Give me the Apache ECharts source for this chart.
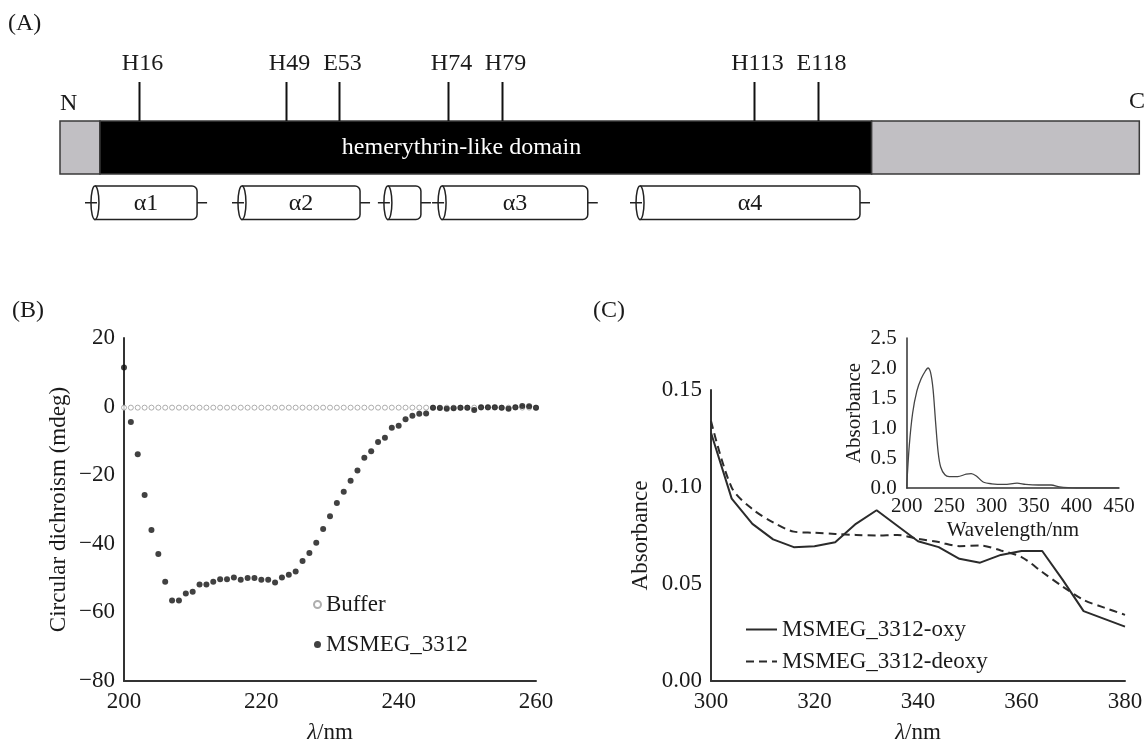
<!DOCTYPE html>
<html>
<head>
<meta charset="utf-8">
<script src="https://cdn.jsdelivr.net/npm/echarts@6/dist/echarts.min.js"></script>
<style>
html, body { margin: 0; background: #fff; }
#chart { width: 1148px; height: 745px; }
</style>
</head>
<body>
<div id="chart"></div>
<script>
// (A) schematic, positions along the bar on a 0-1000 scale
const segStart = [0, 37, 752]
const segEnd = [37, 752, 1000]
const segColor = ['#c1bfc3', '#000000', '#c1bfc3']
const domainLabel = 'hemerythrin-like domain'
const domainLabelPos = 372
const siteNames = ['H16', 'H49', 'E53', 'H74', 'H79', 'H113', 'E118']
const sitePos = [73.2, 209.4, 258.5, 359.5, 409.5, 643, 702.3]
const helixNames = ['α1', 'α2', '', 'α3', 'α4']
const helixStart = [32.4, 168.6, 303.8, 354, 537.4]
const helixEnd = [127, 278, 334.4, 489, 741.2]

// (B) circular dichroism
const cdWavelength = [
  200, 201, 202, 203, 204, 205, 206, 207, 208, 209,
  210, 211, 212, 213, 214, 215, 216, 217, 218, 219,
  220, 221, 222, 223, 224, 225, 226, 227, 228, 229,
  230, 231, 232, 233, 234, 235, 236, 237, 238, 239,
  240, 241, 242, 243, 244, 245, 246, 247, 248, 249,
  250, 251, 252, 253, 254, 255, 256, 257, 258, 259, 260]
const cdBuffer = [
  -0.3, -0.3, -0.3, -0.3, -0.3, -0.3, -0.3, -0.3, -0.3, -0.3,
  -0.3, -0.3, -0.3, -0.3, -0.3, -0.3, -0.3, -0.3, -0.3, -0.3,
  -0.3, -0.3, -0.3, -0.3, -0.3, -0.3, -0.3, -0.3, -0.3, -0.3,
  -0.3, -0.3, -0.3, -0.3, -0.3, -0.3, -0.3, -0.3, -0.3, -0.3,
  -0.3, -0.3, -0.3, -0.3, -0.3, -0.3, -0.3, -0.3, -0.3, -0.3,
  -0.3, -0.3, -0.3, -0.3, -0.3, -0.3, -0.3, -0.3, -0.3, -0.3, -0.3]
const cdProtein = [
  11.4, -4.5, -13.9, -25.8, -36, -43, -51.1, -56.5, -56.5, -54.5,
  -54, -51.9, -51.9, -51.1, -50.3, -50.3, -49.8, -50.5, -50, -50,
  -50.5, -50.5, -51.3, -49.8, -49, -48.1, -45, -42.7, -39.7, -35.7,
  -32, -28.1, -24.8, -21.6, -18.6, -14.9, -13, -10.3, -9.1, -6.2,
  -5.6, -3.7, -2.7, -2.1, -2, -0.3, -0.4, -0.6, -0.5, -0.3,
  -0.3, -1, -0.2, -0.2, -0.2, -0.3, -0.6, -0.2, 0.2, 0.1, -0.3]

// (C) absorbance 300-380 nm
const absWavelength = [300, 304, 308, 312, 316, 320, 324, 328, 332, 336, 340, 344, 348, 352, 356, 360, 364, 368, 372, 376, 380]
const absOxy = [0.128, 0.094, 0.081, 0.073, 0.069, 0.0695, 0.0715, 0.081, 0.088, 0.080, 0.072, 0.069, 0.063, 0.061, 0.065, 0.067, 0.067, 0.052, 0.036, 0.032, 0.028]
const absDeoxy = [0.134, 0.0997, 0.0886, 0.0818, 0.077, 0.0764, 0.0758, 0.0753, 0.075, 0.0753, 0.0733, 0.0716, 0.0695, 0.0699, 0.0673, 0.0639, 0.0562, 0.0486, 0.0418, 0.0378, 0.0341]

// (C) inset, full spectrum
const insetWavelength = [200, 203, 207, 212, 217, 222, 225, 228, 231, 234, 237, 240, 245, 250, 260, 270, 276, 282, 290, 300, 315, 330, 340, 355, 370, 380, 390, 400, 450]
const insetAbs = [0.02, 0.7, 1.25, 1.62, 1.82, 1.95, 2.0, 1.93, 1.65, 1.1, 0.6, 0.35, 0.22, 0.19, 0.19, 0.23, 0.24, 0.2, 0.1, 0.07, 0.06, 0.08, 0.06, 0.05, 0.05, 0.02, 0.005, 0, 0]

const serif = 'Liberation Serif'
const ink = '#1a1a1a'
const minus = (v) => (v < 0 ? '\u2212' + Math.abs(v) : String(v))
const pairs = (xs, ys) => xs.map((x, i) => [x, ys[i]])

function axisStyle(size) {
  return {
    axisLine: { show: true, onZero: false, lineStyle: { color: '#333', width: 2 } },
    axisTick: { show: false },
    splitLine: { show: false },
    axisLabel: { fontFamily: serif, fontSize: size, color: ink, margin: 9 },
    nameTextStyle: { fontFamily: serif, fontSize: size, color: ink },
  }
}

const lambdaName = {
  name: '{i|λ}/nm',
  nameLocation: 'middle',
  nameGap: 40,
}
const lambdaRich = { rich: { i: { fontStyle: 'italic', fontFamily: serif, fontSize: 23, color: ink } } }

const chart = echarts.init(document.getElementById('chart'), null, { renderer: 'canvas' })

chart.setOption({
  animation: false,
  backgroundColor: '#fff',
  textStyle: { fontFamily: serif },
  grid: [
    { left: 60, right: 8.7, top: 82, bottom: 525.7 },
    { left: 124, right: 612, top: 338, bottom: 64 },
    { left: 711, right: 23, top: 390, bottom: 63 },
    { left: 906.7, right: 29, top: 338, bottom: 257 },
  ],
  xAxis: [
    { gridIndex: 0, type: 'value', min: 0, max: 1000, show: false },
    (() => {
      const s = axisStyle(23)
      return { gridIndex: 1, type: 'value', min: 200, max: 260, interval: 20, ...s, ...lambdaName,
        nameTextStyle: { ...s.nameTextStyle, ...lambdaRich } }
    })(),
    (() => {
      const s = axisStyle(23)
      return { gridIndex: 2, type: 'value', min: 300, max: 380, interval: 20, ...s, ...lambdaName,
        nameTextStyle: { ...s.nameTextStyle, ...lambdaRich } }
    })(),
    { gridIndex: 3, type: 'value', min: 200, max: 450, interval: 50, ...axisStyle(21),
      axisLine: { show: true, onZero: false, lineStyle: { color: '#333', width: 1.5 } },
      axisLabel: { fontFamily: serif, fontSize: 21, color: ink, margin: 8 },
      name: 'Wavelength/nm', nameLocation: 'middle', nameGap: 32 },
  ],
  yAxis: [
    { gridIndex: 0, type: 'value', min: 0, max: 1, show: false },
    { gridIndex: 1, type: 'value', min: -80, max: 20, interval: 20, ...axisStyle(23),
      axisLabel: { fontFamily: serif, fontSize: 23, color: ink, margin: 9, formatter: minus },
      name: 'Circular dichroism (mdeg)', nameLocation: 'middle', nameGap: 54 },
    { gridIndex: 2, type: 'value', min: 0, max: 0.15, interval: 0.05, ...axisStyle(23),
      axisLabel: { fontFamily: serif, fontSize: 23, color: ink, margin: 9, formatter: (v) => v.toFixed(2) },
      name: 'Absorbance', nameLocation: 'middle', nameGap: 59 },
    { gridIndex: 3, type: 'value', min: 0, max: 2.5, interval: 0.5, ...axisStyle(21),
      axisLine: { show: true, onZero: false, lineStyle: { color: '#333', width: 1.5 } },
      axisLabel: { fontFamily: serif, fontSize: 21, color: ink, margin: 10, formatter: (v) => v.toFixed(1) },
      name: 'Absorbance', nameLocation: 'middle', nameGap: 42 },
  ],
  legend: [
    {
      data: ['Buffer', 'MSMEG_3312'],
      orient: 'vertical', left: 308, top: 588,
      itemWidth: 7, itemHeight: 7, itemGap: 17,
      textStyle: { fontFamily: serif, fontSize: 23, color: ink },
    },
    {
      data: ['MSMEG_3312-oxy', 'MSMEG_3312-deoxy'],
      orient: 'vertical', left: 740, top: 613,
      itemWidth: 31, itemHeight: 10, itemGap: 9,
      itemStyle: { opacity: 0 },
      textStyle: { fontFamily: serif, fontSize: 23, color: ink },
    },
  ],
  graphic: [
    { type: 'text', left: 8, top: 12, style: { text: '(A)', font: '24px "Liberation Serif"', fill: ink } },
    { type: 'text', left: 12, top: 299, style: { text: '(B)', font: '24px "Liberation Serif"', fill: ink } },
    { type: 'text', left: 593, top: 299, style: { text: '(C)', font: '24px "Liberation Serif"', fill: ink } },
    { type: 'text', left: 60, top: 92, style: { text: 'N', font: '24px "Liberation Serif"', fill: ink } },
    { type: 'text', left: 1129, top: 90, style: { text: 'C', font: '24px "Liberation Serif"', fill: ink } },
  ],
  series: [
    {
      // bar segments
      type: 'custom', xAxisIndex: 0, yAxisIndex: 0, silent: true,
      data: segStart.map((s, i) => [s, segEnd[i], i]),
      renderItem: (params, api) => {
        const cs = params.coordSys
        const x0 = api.coord([api.value(0), 0])[0]
        const x1 = api.coord([api.value(1), 0])[0]
        const i = api.value(2)
        const children = [{
          type: 'rect',
          shape: { x: x0, y: cs.y + 39, width: x1 - x0, height: 53 },
          style: { fill: segColor[i], stroke: '#3a3a3a', lineWidth: 1.5 },
        }]
        if (i === 1) {
          children.push({
            type: 'text',
            style: { text: domainLabel, x: api.coord([domainLabelPos, 0])[0], y: cs.y + 65.5, align: 'center', verticalAlign: 'middle',
              font: '24px "Liberation Serif"', fill: '#fff' },
          })
        }
        return { type: 'group', children }
      },
    },
    {
      // metal-binding sites
      type: 'custom', xAxisIndex: 0, yAxisIndex: 0, silent: true,
      data: sitePos.map((p, i) => [p, i]),
      renderItem: (params, api) => {
        const cs = params.coordSys
        const x = Math.round(api.coord([api.value(0), 0])[0]) + 0.5
        return {
          type: 'group',
          children: [
            { type: 'line', shape: { x1: x, y1: cs.y, x2: x, y2: cs.y + 39 }, style: { stroke: '#111', lineWidth: 2 } },
            { type: 'text', style: { text: siteNames[api.value(1)], x: x + 3, y: cs.y - 18, align: 'center', verticalAlign: 'middle',
              font: '24px "Liberation Serif"', fill: ink } },
          ],
        }
      },
    },
    {
      // helices as cylinders
      type: 'custom', xAxisIndex: 0, yAxisIndex: 0, silent: true,
      data: helixStart.map((s, i) => [s, helixEnd[i], i]),
      renderItem: (params, api) => {
        const cs = params.coordSys
        const x0 = api.coord([api.value(0), 0])[0]
        const x1 = api.coord([api.value(1), 0])[0]
        const top = cs.y + 104
        const h = 33.5
        const cy = top + h / 2
        const stroke = { stroke: '#222', lineWidth: 1.5 }
        return {
          type: 'group',
          children: [
            { type: 'rect', shape: { x: x0, y: top, width: x1 - x0, height: h, r: [0, 5, 5, 0] }, style: { fill: '#fff', ...stroke } },
            { type: 'ellipse', shape: { cx: x0, cy, rx: 4, ry: h / 2 }, style: { fill: '#fff', ...stroke } },
            { type: 'line', shape: { x1: x0 - 10, y1: cy, x2: x0 + 2, y2: cy }, style: stroke },
            { type: 'line', shape: { x1: x1, y1: cy, x2: x1 + 10, y2: cy }, style: stroke },
            { type: 'text', style: { text: helixNames[api.value(2)], x: (x0 + x1) / 2, y: cy + 1, align: 'center', verticalAlign: 'middle',
              font: '24px "Liberation Serif"', fill: ink } },
          ],
        }
      },
    },
    {
      name: 'Buffer', type: 'scatter', xAxisIndex: 1, yAxisIndex: 1,
      data: pairs(cdWavelength, cdBuffer),
      symbol: 'circle', symbolSize: 5,
      itemStyle: { color: '#fff', borderColor: '#9a9a9a', borderWidth: 1 },
    },
    {
      name: 'MSMEG_3312', type: 'scatter', xAxisIndex: 1, yAxisIndex: 1,
      data: pairs(cdWavelength, cdProtein),
      symbol: 'circle', symbolSize: 6,
      itemStyle: { color: '#111' },
    },
    {
      name: 'MSMEG_3312-oxy', type: 'line', xAxisIndex: 2, yAxisIndex: 2,
      data: pairs(absWavelength, absOxy),
      symbol: 'none',
      lineStyle: { color: '#2b2b2b', width: 2 },
      itemStyle: { color: '#2b2b2b' },
    },
    {
      name: 'MSMEG_3312-deoxy', type: 'line', xAxisIndex: 2, yAxisIndex: 2,
      data: pairs(absWavelength, absDeoxy),
      symbol: 'none', smooth: 0.3,
      lineStyle: { color: '#2b2b2b', width: 2, type: [8, 5] },
      itemStyle: { color: '#2b2b2b' },
    },
    {
      name: 'full spectrum', type: 'line', xAxisIndex: 3, yAxisIndex: 3,
      data: pairs(insetWavelength, insetAbs),
      symbol: 'none', smooth: 0.3,
      lineStyle: { color: '#444', width: 1.3 },
    },
  ],
})
</script>
</body>
</html>
